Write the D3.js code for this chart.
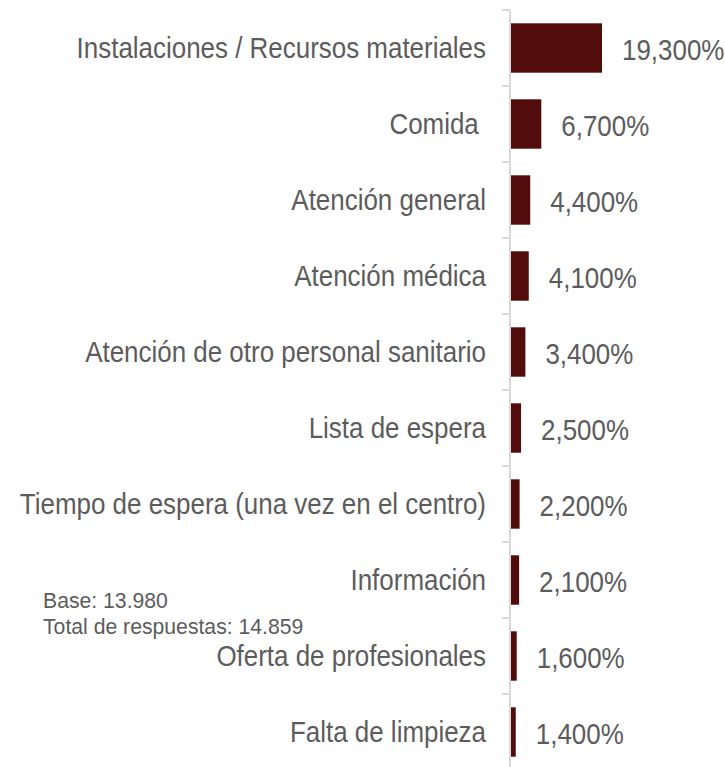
<!DOCTYPE html>
<html>
<head>
<meta charset="utf-8">
<script src="https://cdn.jsdelivr.net/npm/d3@7"></script>
<style>
  html, body { margin: 0; padding: 0; background: #ffffff; }
  svg { display: block; }
  text { font-family: "Liberation Sans", Arial, sans-serif; white-space: pre; }
</style>
</head>
<body>
<script>
const categories = [
  "Instalaciones / Recursos materiales",
  "Comida ",
  "Atención general",
  "Atención médica",
  "Atención de otro personal sanitario",
  "Lista de espera",
  "Tiempo de espera (una vez en el centro)",
  "Información",
  "Oferta de profesionales",
  "Falta de limpieza"
];
const values = [19.3, 6.7, 4.4, 4.1, 3.4, 2.5, 2.2, 2.1, 1.6, 1.4];
const notes = ["Base: 13.980", "Total de respuestas: 14.859"];

const W = 725, H = 767;
const barColor = "#530c0c";
const textColor = "#5c5c5c";
const axisColor = "#d9d9d9";
const squeeze = 0.895;

const svg = d3.select("body").append("svg").attr("width", W).attr("height", H);

const y = d3.scaleBand()
  .domain(categories)
  .range([10, 770])
  .paddingInner(0.35)
  .paddingOuter(0.175);

const x0 = 509;
const x = d3.scaleLinear().domain([0, 19.3]).range([x0, x0 + 93]);

const fmt = v => d3.format(".3f")(v).replace(".", ",") + "%";

// bars
svg.append("g").selectAll("rect")
  .data(values)
  .join("rect")
  .attr("x", x(0))
  .attr("y", (d, i) => y(categories[i]))
  .attr("width", d => x(d) - x(0))
  .attr("height", y.bandwidth())
  .attr("fill", barColor);

// axis line and ticks at band boundaries
const step = y.step();
const bounds = categories.map(c => y(c) - step * y.paddingInner() / 2);
bounds.push(bounds[bounds.length - 1] + step);
const ax = svg.append("g");
ax.append("line")
  .attr("x1", 510).attr("x2", 510)
  .attr("y1", bounds[0]).attr("y2", bounds[bounds.length - 1])
  .attr("stroke", axisColor).attr("stroke-width", 2);
ax.selectAll("line.tick")
  .data(bounds)
  .join("line")
  .attr("class", "tick")
  .attr("x1", 502).attr("x2", 510)
  .attr("y1", d => d).attr("y2", d => d)
  .attr("stroke", axisColor).attr("stroke-width", 2);

// category labels
svg.append("g").selectAll("text")
  .data(categories)
  .join("text")
  .attr("transform", d => `translate(486,${y(d) + y.bandwidth() / 2 + 10}) scale(${squeeze},1)`)
  .attr("text-anchor", "end")
  .attr("font-size", 29)
  .attr("fill", textColor)
  .text(d => d);

// value labels
svg.append("g").selectAll("text")
  .data(values)
  .join("text")
  .attr("transform", (d, i) => `translate(${x(d) + 20},${y(categories[i]) + y.bandwidth() / 2 + 12}) scale(${squeeze},1)`)
  .attr("text-anchor", "start")
  .attr("font-size", 29)
  .attr("fill", textColor)
  .text(d => fmt(d));

// notes
svg.append("g").selectAll("text")
  .data(notes)
  .join("text")
  .attr("x", 43)
  .attr("y", (d, i) => 608 + i * 26)
  .attr("font-size", 21.2)
  .attr("fill", textColor)
  .text(d => d);
</script>
</body>
</html>
